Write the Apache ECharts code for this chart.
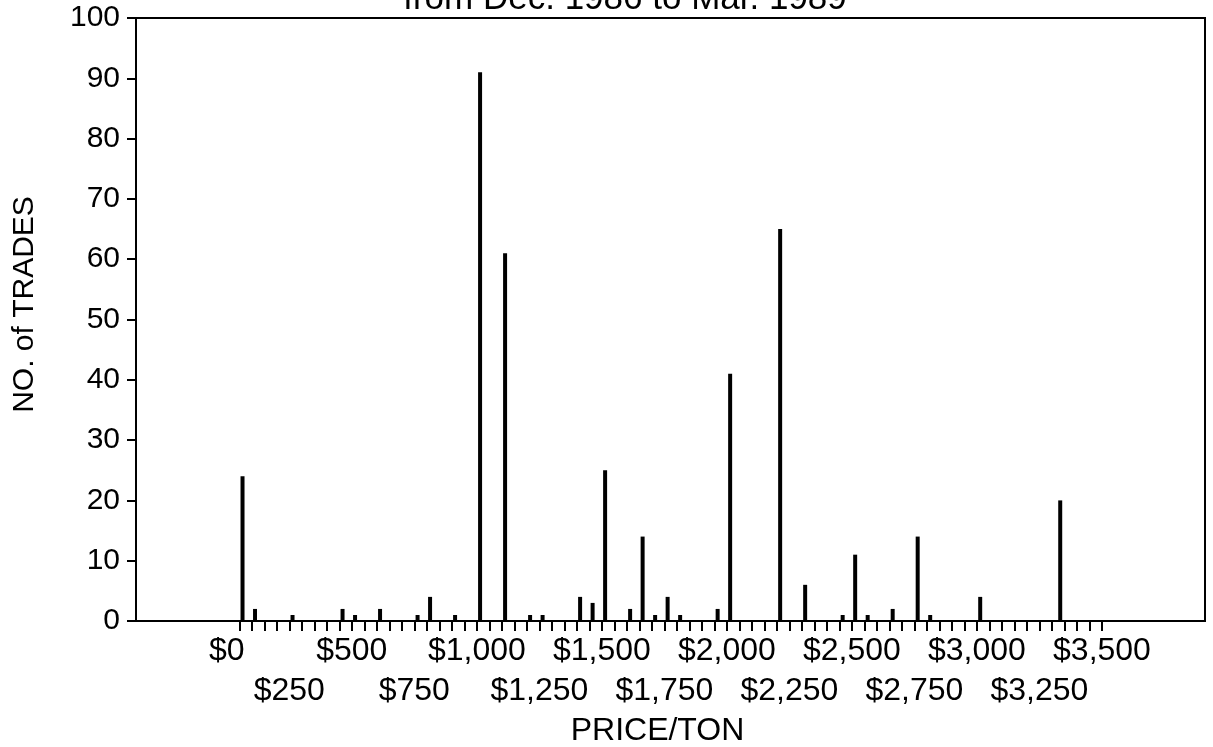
<!DOCTYPE html>
<html>
<head>
<meta charset="utf-8">
<script src="https://cdn.jsdelivr.net/npm/echarts@6/dist/echarts.min.js"></script>
<style>
html,body{margin:0;padding:0;background:#fff;}
#chart{width:1213px;height:747px;}
</style>
</head>
<body>
<div id="chart"></div>
<script>
// ---- data ----
const titleText = 'from Dec. 1986 to Mar. 1989';
const prices = [50,100,250,450,500,600,750,800,900,1000,1100,1200,1250,1400,1450,1500,1600,1650,1700,1750,1800,1950,2000,2200,2300,2450,2500,2550,2650,2750,2800,3000,3320];
const trades = [24,2,1,2,1,2,1,4,1,91,61,1,1,4,3,25,2,14,1,4,1,2,41,65,6,1,11,1,2,14,1,4,20];
const xLabelsRow1 = [0,500,1000,1500,2000,2500,3000,3500];
const xLabelsRow2 = [250,750,1250,1750,2250,2750,3250];
const xTickStart = 50, xTickEnd = 3500, xTickStep = 50;

const xTickValues = [];
for (let v = xTickStart; v <= xTickEnd; v += xTickStep) xTickValues.push(v);

const X_MIN = -363, X_MAX = 3912;
const BAR_SHIFT = 13; // bars drawn slightly right of their tick, as in the original
const FONT = 'Liberation Sans, Arial, Helvetica, sans-serif';

function fmtMoney(v){
  return '$' + String(v).replace(/\B(?=(\d{3})+(?!\d))/g, ',');
}

const chart = echarts.init(document.getElementById('chart'), null, {renderer:'canvas'});
chart.setOption({
  animation:false,
  backgroundColor:'#fff',
  title:{
    text:titleText,
    left:620, top:-23, textAlign:'center',
    textStyle:{fontFamily:FONT, fontSize:35, fontWeight:'normal', color:'#000'}
  },
  grid:{left:136, right:8, top:18, bottom:126, containLabel:false, outerBoundsMode:'none',
        show:true, borderColor:'#000', borderWidth:2, backgroundColor:'transparent'},
  xAxis:[{
    type:'value', min:X_MIN, max:X_MAX, position:'bottom',
    name:'PRICE/TON', nameLocation:'middle', nameGap:94,
    nameTextStyle:{fontFamily:FONT, fontSize:32, color:'#000', padding:[0,26,0,0]},
    axisLine:{show:true, onZero:false, lineStyle:{color:'#000', width:2}},
    axisTick:{show:true, inside:false, length:10, lineStyle:{color:'#000', width:2}, customValues:xTickValues},
    splitLine:{show:false},
    axisLabel:{
      customValues:xLabelsRow1, margin:14, color:'#000', showMinLabel:true, showMaxLabel:true,
      fontFamily:FONT, fontSize:32, formatter:fmtMoney
    }
  },{
    type:'value', min:X_MIN - BAR_SHIFT, max:X_MAX - BAR_SHIFT, show:false
  },{
    type:'value', min:X_MIN, max:X_MAX, position:'bottom', offset:40,
    axisLine:{show:false}, axisTick:{show:false}, splitLine:{show:false},
    axisLabel:{
      customValues:xLabelsRow2, margin:14, color:'#000', showMinLabel:true, showMaxLabel:true,
      fontFamily:FONT, fontSize:32, formatter:fmtMoney
    }
  }],
  yAxis:{
    type:'value', min:0, max:100, interval:10,
    name:'NO. of TRADES', nameLocation:'middle', nameGap:96, nameRotate:90,
    nameTextStyle:{fontFamily:FONT, fontSize:30, color:'#000', padding:[0,0,0,30]},
    axisLine:{show:true, onZero:false, lineStyle:{color:'#000', width:2}},
    axisTick:{show:true, inside:false, length:9, lineStyle:{color:'#000', width:2}},
    splitLine:{show:false},
    axisLabel:{margin:16, color:'#000', fontFamily:FONT, fontSize:30, showMinLabel:true, showMaxLabel:true}
  },
  series:[{
    type:'bar', xAxisIndex:1,
    data:prices.map((p,i)=>[p, trades[i]]),
    barWidth:4,
    itemStyle:{color:'#000'}
  }]
});
</script>
</body>
</html>
